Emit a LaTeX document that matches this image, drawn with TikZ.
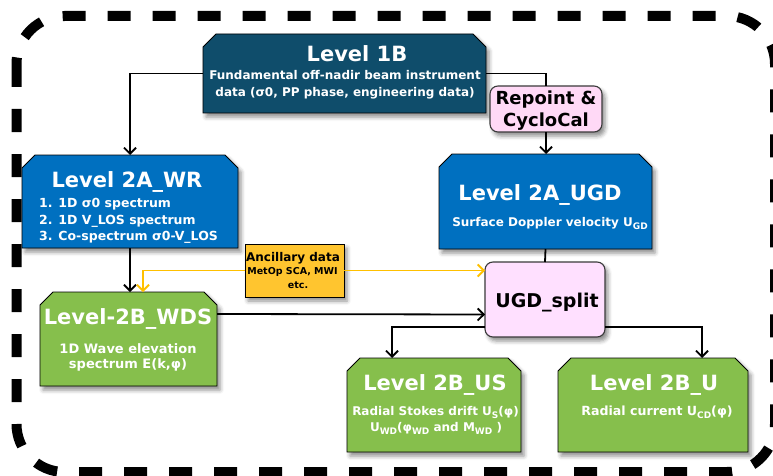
\documentclass[tikz,border=0pt]{standalone}
\usepackage{fontspec}
\setmainfont{DejaVu Sans}
\usetikzlibrary{arrows.meta, shadows.blur, calc}

\definecolor{navyone}{HTML}{0F4D6B}
\definecolor{bluetwoa}{HTML}{0070C0}
\definecolor{greentwob}{HTML}{86BF4C}
\definecolor{ancfill}{HTML}{FFC52F}
\definecolor{ancline}{HTML}{FFC000}
\definecolor{splitfill}{HTML}{FFE0FF}
\definecolor{repfill}{HTML}{FFD9F6}
\definecolor{pinkedge}{HTML}{3A3A3A}

% lowered, slightly reduced index text
\newcommand\lowidx[1]{\raisebox{-3.2pt}{\fontsize{9}{9}\selectfont #1}}

\tikzset{
  softshadow/.style={blur shadow={shadow xshift=3pt, shadow yshift=-4pt,
      shadow blur radius=4pt, shadow opacity=45}},
  levelbox/.style={rectangle, inner sep=0pt, outer sep=0pt},
  chamfer/.style={draw=black, line width=0.9pt, softshadow},
  roundbox/.style={rectangle, rounded corners=8pt, draw=pinkedge,
      line width=1.1pt, inner sep=0pt, outer sep=0pt, softshadow},
  ancbox/.style={rectangle, draw=black, line width=0.9pt, fill=ancfill,
      inner sep=0pt, outer sep=0pt, softshadow},
  title/.style={font=\bfseries\fontsize{21}{25}\selectfont, text=white,
      anchor=base, inner sep=0pt},
  subtext/.style={font=\bfseries\fontsize{12}{14}\selectfont, text=white,
      anchor=base, inner sep=0pt},
  bigsub/.style={subtext, font=\bfseries\fontsize{13}{15}\selectfont},
  listtext/.style={subtext, font=\bfseries\fontsize{12.5}{14}\selectfont,
      anchor=base west},
  conn/.style={draw=black, line width=1.8pt,
      -{Straight Barb[length=6pt,width=12pt]}},
  link/.style={draw=black, line width=1.8pt},
  ancconn/.style={draw=ancline, line width=1.8pt,
      -{Straight Barb[length=6pt,width=12pt]}},
}

% box with its two upper corners cut off, drawn over a placed node
\newcommand\chamferbox[2]{%
  \path[chamfer, fill=#2] (#1.south west) -- ([yshift=-13pt]#1.north west)
    -- ([xshift=13pt]#1.north west) -- ([xshift=-13pt]#1.north east)
    -- ([yshift=-13pt]#1.north east) -- (#1.south east) -- cycle;}

\begin{document}
\begin{tikzpicture}[x=1pt, y=-1pt]
\useasboundingbox (0,0) rectangle (773,476);

% outer dashed frame
\draw[line width=10pt, dash pattern=on 23pt off 22pt, rounded corners=48pt]
  (16.5,16) rectangle (775,472);

% box placements
\node[levelbox, minimum width=283pt, minimum height=79pt] (l1b) at (344.5,73.5) {};
\node[levelbox, minimum width=216pt, minimum height=93pt] (wr) at (130,201.5) {};
\node[levelbox, minimum width=213pt, minimum height=95pt] (ugd) at (545.5,201.5) {};
\node[levelbox, minimum width=177pt, minimum height=94pt] (wds) at (128.5,339) {};
\node[levelbox, minimum width=174pt, minimum height=94pt] (us) at (434,405) {};
\node[levelbox, minimum width=190pt, minimum height=94pt] (uu) at (653,405) {};

% box outlines
\chamferbox{l1b}{navyone}
\chamferbox{wr}{bluetwoa}
\chamferbox{ugd}{bluetwoa}
\chamferbox{wds}{greentwob}
\chamferbox{us}{greentwob}
\chamferbox{uu}{greentwob}
\node[roundbox, fill=repfill, minimum width=112pt, minimum height=46pt] (rep) at (546,109) {};
\node[roundbox, fill=splitfill, minimum width=120pt, minimum height=75pt] (split) at (545,299.5) {};
\node[ancbox, minimum width=99pt, minimum height=53pt] (anc) at (294.5,270.5) {};

% connectors
\draw[conn] (l1b.west) -| (wr.north);
\draw[link] (l1b.east) -| (rep.north);
\draw[conn] (rep.south) -- (rep.south |- ugd.north);
\draw[conn] (wr.south) -- (wr.south |- wds.north);
\draw[ancconn] (anc.west) -| ([xshift=14.5pt]wds.north);
\draw[ancconn] (anc.east) -- (anc.east -| split.west);
\draw[conn] ($(wds.north east)!0.234!(wds.south east)$) -- ($(split.north west)!0.7!(split.south west)$);
\draw[link] (ugd.south) -- (split.north);
\draw[conn] ($(split.north west)!0.867!(split.south west)$) -| ([xshift=-42pt]us.north);
\draw[conn] ($(split.north east)!0.867!(split.south east)$) -| ([xshift=49pt]uu.north);

% Level 1B
\node[title] (l1bt) at (357,62) {Level 1B};
\node[subtext] (l1bs1) at (345,79.5) {Fundamental off-nadir beam instrument};
\node[subtext] (l1bs2) at (345,97) {data (σ0, PP phase, engineering data)};

% Level 2A_WR
\node[title] (wrt) at (127,187) {Level 2A\_WR};
\node[listtext] (wr1) at (39,207) {1. 1D σ0 spectrum};
\node[listtext] (wr2) at (39,224) {2. 1D V\_LOS spectrum};
\node[listtext] (wr3) at (39,240.5) {3. Co-spectrum σ0-V\_LOS};

% Level 2A_UGD
\node[title] (ugdt) at (540,200) {Level 2A\_UGD};
\node[subtext] (ugds) at (550,226) {Surface Doppler velocity U\lowidx{GD}};

% Repoint & CycloCal
\node[title, text=black, font=\bfseries\fontsize{18}{22}\selectfont] (rep1) at (546,105) {Repoint \&};
\node[title, text=black, font=\bfseries\fontsize{18}{22}\selectfont] (rep2) at (546,126.5) {CycloCal};

% ancillary data
\node[subtext, text=black] (anct) at (293,261) {Ancillary data};
\node[subtext, text=black, font=\bfseries\fontsize{9.5}{11}\selectfont] (anc1) at (292.5,274) {MetOp SCA, MWI};
\node[subtext, text=black, font=\bfseries\fontsize{9.5}{11}\selectfont] (anc2) at (298,288) {etc.};

% UGD_split
\node[title, text=black, font=\bfseries\fontsize{19}{23}\selectfont] (splitt) at (547,307) {UGD\_split};

% Level-2B_WDS
\node[title] (wdst) at (128,324) {Level-2B\_WDS};
\node[bigsub] (wds1) at (128,353) {1D Wave elevation};
\node[bigsub] (wds2) at (128,368) {spectrum E(k,φ)};

% Level 2B_US
\node[title] (ust) at (435,390) {Level 2B\_US};
\node[subtext] (us1) at (435.5,415) {Radial Stokes drift U\lowidx{S}(φ)};
\node[subtext] (us2) at (436,431) {U\lowidx{WD}(φ\lowidx{WD} and M\lowidx{WD} )};

% Level 2B_U
\node[title] (uut) at (654,390) {Level 2B\_U};
\node[subtext, font=\bfseries\fontsize{12.6}{14}\selectfont] (uu1) at (657,415) {Radial current U\lowidx{CD}(φ)};
\end{tikzpicture}
\end{document}
